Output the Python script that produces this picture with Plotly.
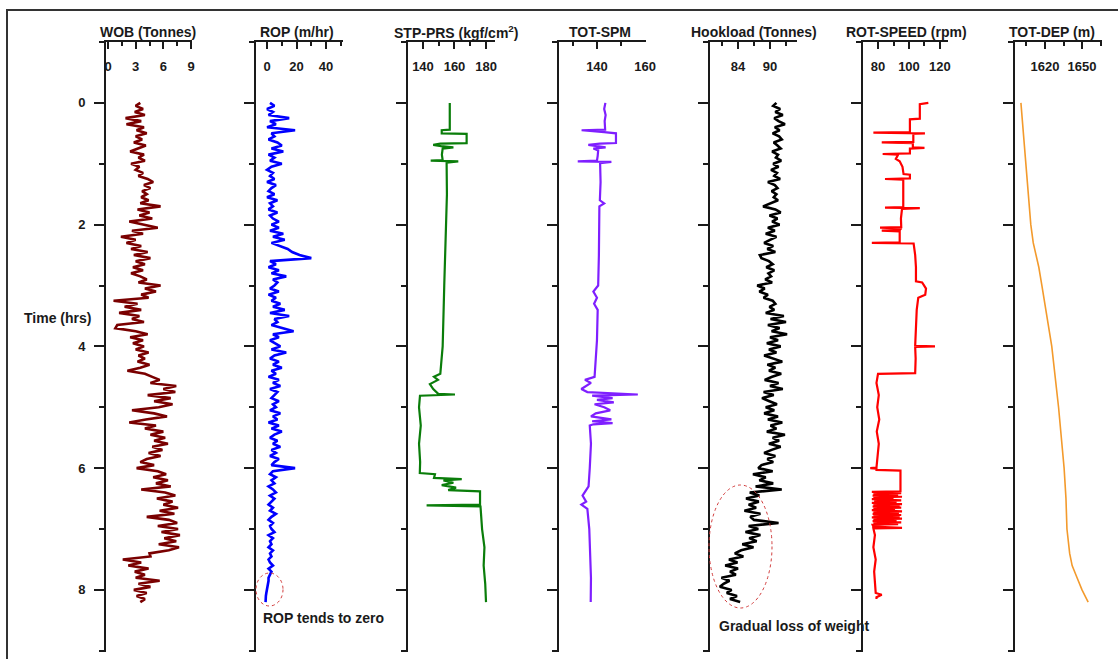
import numpy as np
import plotly.graph_objects as go

W, H = 1118, 659
TOP, BOTTOM = 42, 652
FONT = "Arial, Liberation Sans, sans-serif"
INK = "#1a1a1a"

STEP_HRS = 0.05  # sampling interval of the densely logged channels

# WOB (Tonnes), one row per hour
WOB_ROWS = [
    [3.5, 3.0, 3.8, 2.9, 4.0, 1.9, 3.6, 2.0, 3.9, 3.1, 4.2, 3.0, 3.7, 2.8, 4.1, 3.2, 2.4, 3.9, 3.3, 4.0],
    [2.5, 3.4, 3.0, 3.8, 3.3, 4.3, 4.9, 3.9, 4.6, 3.7, 4.2, 3.6, 4.4, 3.5, 5.7, 3.2, 4.5, 3.4, 4.8, 2.3],
    [3.9, 5.4, 2.6, 3.8, 1.4, 3.0, 2.0, 3.6, 2.5, 4.3, 2.8, 4.6, 3.0, 4.0, 2.7, 3.8, 2.5, 3.5, 4.2, 3.3],
    [5.7, 4.0, 5.2, 3.6, 4.4, 0.6, 3.2, 1.8, 3.6, 1.2, 3.4, 2.6, 3.9, 1.0, 0.8, 3.0, 4.3, 2.4, 3.8, 2.7],
    [3.9, 3.0, 4.4, 3.3, 4.0, 3.2, 4.5, 3.5, 2.1, 4.0, 4.8, 5.6, 4.6, 7.4, 6.0, 7.3, 4.3, 6.8, 5.0, 7.0],
    [5.5, 2.6, 5.0, 6.4, 4.1, 2.3, 5.2, 4.0, 6.0, 4.6, 6.2, 5.0, 6.5, 4.8, 5.9, 4.4, 5.7, 4.2, 3.5, 5.0],
    [3.1, 5.4, 6.3, 4.9, 6.5, 5.2, 6.8, 3.6, 6.2, 7.3, 5.3, 7.0, 6.0, 7.6, 5.6, 7.2, 4.2, 6.6, 7.5, 5.4],
    [7.6, 5.8, 7.8, 6.1, 7.4, 5.5, 7.7, 6.6, 4.5, 4.6, 1.6, 3.6, 2.2, 4.4, 2.9, 4.0, 3.0, 5.6, 3.3, 4.6],
    [2.8, 4.2, 3.1, 4.0, 3.5],
]

# ROP (m/hr)
ROP_ROWS = [
    [2, 5, 0, 4, 1, 15, 2, 6, 0, 19, 3, 5, 1, 7, 10, 3, 11, 1, 5, 2],
    [10, 3, 0, 4, 2, 5, 0, 6, 3, 1, 5, 0, 7, 2, 4, 1, 7, 2, 4, 8],
    [3, 8, 2, 11, 4, 12, 3, 9, 14, 17, 22, 30, 2, 6, 1, 8, 3, 13, 4, 7],
    [5, 2, 8, 1, 6, 3, 9, 4, 12, 2, 15, 5, 7, 3, 10, 18, 4, 8, 2, 6],
    [9, 3, 13, 5, 2, 8, 4, 10, 3, 6, 1, 8, 4, 9, 2, 7, 5, 3, 8, 4],
    [6, 2, 9, 4, 7, 1, 8, 3, 10, 5, 2, 7, 4, 9, 3, 6, 2, 8, 5, 3],
    [19, 4, 2, 6, 3, 5, 1, 4, 6, 2, 5, 3, 1, 4, 2, 6, 3, 1, 4, 2],
    [3, 5, 1, 4, 2, 3, 1, 4, 2, 3, 1, 2, 4, 1, 3, 2, 1, 1, 0.5, 0.5],
    [0, -0.5, -0.8, -1, -1],
]

# Hookload (Tonnes)
HOOK_ROWS = [
    [91.2, 90.6, 91.9, 91.0, 92.4, 90.8, 91.6, 92.8, 90.9, 91.8, 90.5, 91.7, 92.2, 90.7, 91.4, 92.0, 90.4, 91.5, 91.1, 92.1],
    [90.6, 91.6, 90.2, 91.3, 90.8, 91.9, 89.6, 90.9, 91.4, 90.3, 91.2, 90.7, 91.5, 90.1, 88.7, 91.0, 92.0, 89.9, 91.4, 90.4],
    [91.8, 89.6, 90.9, 89.2, 91.2, 90.0, 88.9, 90.6, 89.5, 91.0, 88.1, 88.4, 89.8, 90.5, 89.3, 90.8, 89.7, 90.2, 89.1, 90.4],
    [87.6, 89.0, 88.0, 89.6, 88.8, 90.5, 91.0, 89.9, 90.8, 89.2, 92.6, 90.1, 93.0, 89.6, 91.8, 90.3, 93.2, 90.0, 91.5, 89.4],
    [92.0, 89.8, 91.2, 88.9, 90.6, 92.3, 89.5, 91.0, 89.8, 92.1, 90.4, 89.0, 91.6, 90.0, 92.4, 88.8, 90.7, 88.5, 89.9, 91.3],
    [89.2, 90.8, 88.9, 91.5, 89.6, 92.3, 90.1, 91.2, 89.4, 92.8, 90.5, 91.7, 89.8, 92.0, 90.3, 88.9, 91.0, 89.5, 90.6, 88.4],
    [87.8, 90.5, 86.8, 89.2, 88.0, 90.6, 87.3, 92.2, 86.2, 88.0, 85.5, 87.9, 86.0, 87.4, 85.2, 88.2, 86.3, 87.0, 91.6, 86.0],
    [87.8, 85.4, 88.2, 86.1, 87.5, 84.8, 86.9, 84.6, 83.4, 85.0, 82.3, 83.9, 81.6, 84.0, 82.5, 83.6, 80.9, 82.4, 81.3, 80.6],
    [82.8, 81.9, 83.8, 82.5, 84.4],
]

# STP-PRS (kgf/cm2): time (hrs), value
STP_T = [0.00, 0.20, 0.44, 0.45, 0.50, 0.51, 0.66, 0.67, 0.69, 0.71, 0.73, 0.75, 0.85, 0.94, 0.95, 0.96, 0.98,
         1.5, 2.0, 2.5, 3.0, 3.3, 3.6, 4.0, 4.3, 4.45, 4.5, 4.55, 4.62, 4.7, 4.78, 4.79, 4.81, 5.0, 5.3, 5.6,
         5.9, 6.08, 6.10, 6.16, 6.18, 6.20, 6.24, 6.28, 6.32, 6.36, 6.38, 6.60, 6.61, 6.63, 7.0, 7.3, 7.6, 7.9, 8.2]
STP_V = [157.0, 157.2, 157.0, 151.9, 151.9, 167.7, 167.7, 151.0, 146.5, 151.5, 159.3, 152.5, 152.0, 152.5, 144.9,
         162.4, 155.0, 155.2, 154.5, 154.0, 153.5, 153.2, 152.9, 152.5, 151.5, 151.0, 147.0, 149.5, 144.4, 146.5,
         149.7, 160.3, 138.1, 137.5, 138.6, 137.5, 138.2, 138.0, 147.6, 147.0, 164.6, 153.0, 159.3, 151.9, 161.0,
         156.0, 176.2, 176.2, 142.3, 176.5, 177.5, 179.0, 178.5, 179.5, 180.0]

# TOT-SPM
SPM_T = [0, 0.1, 0.2, 0.3, 0.44, 0.45, 0.48, 0.5, 0.66, 0.67, 0.69, 0.71, 0.73, 0.75, 0.78, 0.87, 0.95, 0.96,
         0.97, 0.99, 1.3, 1.6, 1.65, 1.7, 2.0, 2.5, 3.0, 3.1, 3.2, 3.3, 3.4, 3.9, 4.2, 4.5, 4.55, 4.6, 4.7, 4.75,
         4.79, 4.81, 4.85, 4.88, 4.92, 4.95, 5.0, 5.05, 5.1, 5.15, 5.2, 5.23, 5.26, 5.28, 5.3, 5.6, 6.0, 6.3,
         6.45, 6.55, 6.6, 6.67, 7.0, 7.4, 7.8, 8.2]
SPM_V = [143.5, 143.0, 143.6, 143.2, 143.4, 133.6, 143.0, 147.9, 147.9, 141.2, 136.4, 141.0, 143.6, 138.5, 140.5,
         140.3, 140.0, 132.0, 146.0, 141.3, 141.5, 141.2, 143.0, 141.0, 141.0, 140.8, 140.5, 138.5, 140.0, 138.8,
         140.3, 140.0, 139.5, 139.0, 135.0, 137.5, 133.5, 136.0, 157.0, 138.0, 146.5, 140.0, 147.0, 139.0, 143.0,
         145.5, 139.5, 137.5, 146.0, 138.0, 146.5, 138.5, 137.0, 137.5, 137.0, 136.5, 134.0, 135.5, 133.5, 136.0,
         136.8, 137.2, 137.5, 137.4]

# ROT-SPEED (rpm)
ROT_T = [0.00, 0.02, 0.26, 0.27, 0.48, 0.49, 0.50, 0.51, 0.64, 0.65, 0.66, 0.73, 0.74, 0.75, 0.83, 0.84, 0.85,
         0.92, 0.96, 1.05, 1.17, 1.18, 1.24, 1.25, 1.26, 1.50, 1.71, 1.72, 1.73, 1.74, 1.90, 2.04, 2.05, 2.06,
         2.09, 2.10, 2.11, 2.29, 2.30, 2.31, 2.50, 2.70, 2.93, 2.95, 3.05, 3.15, 3.20, 3.40, 3.70, 3.95, 3.99,
         4.00, 4.01, 4.20, 4.44, 4.45, 4.60, 4.80, 5.00, 5.20, 5.40, 5.60, 5.80, 5.99, 6.00, 6.01, 6.03, 6.04,
         6.38, 6.39, 6.41, 6.42, 6.44, 6.45, 6.47, 6.48, 6.50, 6.51, 6.53, 6.54, 6.56, 6.57, 6.59, 6.60, 6.62,
         6.63, 6.65, 6.66, 6.68, 6.69, 6.71, 6.72, 6.74, 6.75, 6.77, 6.78, 6.80, 6.81, 6.83, 6.84, 6.86, 6.87,
         6.89, 6.90, 6.92, 6.93, 6.96, 6.98, 6.99, 7.10, 7.30, 7.50, 7.70, 7.90, 8.05, 8.08, 8.12, 8.15]
ROT_V = [112.5, 107.0, 107.0, 100.6, 100.6, 77.0, 110.3, 102.8, 102.8, 82.4, 102.5, 102.5, 110.0, 100.6, 100.6,
         83.0, 93.0, 91.5, 94.0, 95.8, 96.5, 100.6, 100.6, 84.5, 96.3, 96.3, 96.3, 84.5, 107.0, 95.5, 94.8, 95.0,
         81.3, 95.0, 94.0, 82.4, 94.0, 94.0, 76.0, 103.0, 104.0, 104.5, 104.5, 108.5, 111.0, 110.5, 106.0, 105.0,
         104.5, 104.5, 104.0, 116.8, 104.0, 104.3, 104.0, 80.0, 79.0, 80.5, 79.5, 80.8, 79.2, 80.5, 79.5, 79.0,
         75.0, 79.0, 79.0, 94.5, 94.5, 76.0, 95.0, 77.0, 93.0, 76.5, 95.5, 77.0, 90.0, 76.0, 95.0, 77.5, 92.0,
         76.0, 95.5, 77.0, 94.0, 76.5, 95.0, 77.0, 91.0, 76.0, 95.5, 77.0, 93.5, 76.5, 95.0, 77.0, 94.0, 76.0,
         95.5, 77.0, 92.0, 76.5, 95.0, 77.0, 93.0, 76.5, 77.0, 95.5, 77.0, 78.0, 77.0, 78.5, 77.5, 78.0, 78.5,
         82.4, 79.0, 79.0]

# TOT-DEP (m)
DEP_T = [0.0, 1.0, 2.0, 2.3, 2.7, 3.0, 4.0, 5.0, 6.0, 6.5, 7.0, 7.4, 7.6, 7.8, 8.0, 8.2]
DEP_V = [1600.5, 1604.5, 1608.5, 1610.5, 1615.0, 1617.5, 1625.5, 1631.0, 1635.5, 1637.0, 1637.8, 1640.0,
         1642.0, 1646.0, 1650.0, 1655.0]


def flat(rows):
    return [v for r in rows for v in r]


def grid(vals):
    return list(np.round(np.arange(len(vals)) * STEP_HRS, 2))


wob, rop, hook = flat(WOB_ROWS), flat(ROP_ROWS), flat(HOOK_ROWS)

series = [
    (wob, grid(wob)), (rop, grid(rop)), (STP_V, STP_T), (SPM_V, SPM_T),
    (hook, grid(hook)), (ROT_V, ROT_T), (DEP_V, DEP_T),
]

# panel geometry/style: pixel span, range, major dtick, minor dtick, title, title centre px, colour, width
PANELS = [
    ((106, 192), (-0.22, 9.11), 3, 1.5, "WOB (Tonnes)", 148, "#7a0000", 2.6),
    ((256, 343), (-7.5, 51.5), 20, 10, "ROP (m/hr)", 297, "#0000ff", 2.6),
    ((408, 495), (130.5, 185.7), 20, 10, "STP-PRS (kgf/cm<sup>2</sup>)", 456, "#0a7d0a", 2.2),
    ((559, 646), (124.2, 160.4), 20, 10, "TOT-SPM", 600, "#7f1fff", 2.2),
    ((710, 797), (78.75, 95.06), 6, 3, "Hookload (Tonnes)", 754, "#000000", 2.6),
    ((863, 948), (70.3, 125.2), 20, 10, "ROT-SPEED (rpm)", 906, "#ff0000", 2.2),
    ((1015, 1102), (1595.7, 1666.2), 30, 15, "TOT-DEP (m)", 1052, "#f39a2c", 1.6),
]


def py(p):
    return (BOTTOM - p) / (BOTTOM - TOP)


fig = go.Figure()
layout = {}
annotations = []
for i, ((x0, x1), rng, dt, mdt, title, tcx, col, lw) in enumerate(PANELS):
    sfx = "" if i == 0 else str(i + 1)
    xs, ys = series[i]
    fig.add_trace(go.Scatter(x=xs, y=ys, mode="lines", line=dict(color=col, width=lw),
                             xaxis="x" + sfx, yaxis="y" + sfx, showlegend=False, hoverinfo="skip"))
    layout["xaxis" + sfx] = dict(
        domain=[x0 / W, x1 / W], range=list(rng), anchor="y" + sfx, side="top", automargin=False,
        showline=True, linecolor=INK, linewidth=2, showgrid=False, zeroline=False,
        ticks="inside", ticklen=7, tickwidth=2, tickcolor=INK,
        tickmode="linear", tick0=0, dtick=dt,
        minor=dict(ticks="inside", dtick=mdt, ticklen=4, tickwidth=2, tickcolor=INK, showgrid=False),
        ticklabelposition="inside", ticklabeloverflow="allow", ticklabelstandoff=13,
        tickfont=dict(family=FONT, size=13, color=INK, weight="bold"),
    )
    yax = dict(
        domain=[0, 1], range=[9.02, -1.0], anchor="x" + sfx, automargin=False,
        showline=True, linecolor=INK, linewidth=2, showgrid=False, zeroline=False,
        ticks="outside", ticklen=10, tickwidth=2, tickcolor=INK,
        tickmode="linear", tick0=0, dtick=2,
        minor=dict(ticks="outside", dtick=1, ticklen=5, tickwidth=2, tickcolor=INK, showgrid=False),
        showticklabels=(i == 0), ticklabelstandoff=6,
        tickfont=dict(family=FONT, size=13, color=INK, weight="bold"),
    )
    if i > 0:
        yax["matches"] = "y"
    layout["yaxis" + sfx] = yax
    annotations.append(dict(text=title, x=tcx / W, y=py(32), xref="paper", yref="paper",
                            showarrow=False, xanchor="center", yanchor="middle",
                            font=dict(family=FONT, size=14, color=INK, weight="bold")))

annotations += [
    dict(text="Time (hrs)", x=57 / W, y=py(318), xref="paper", yref="paper", showarrow=False,
         xanchor="center", yanchor="middle", font=dict(family=FONT, size=14, color=INK, weight="bold")),
    dict(text="ROP tends to zero", x=323 / W, y=py(618), xref="paper", yref="paper", showarrow=False,
         xanchor="center", yanchor="middle", font=dict(family=FONT, size=14, color=INK, weight="bold")),
    dict(text="Gradual loss of weight", x=794 / W, y=py(626), xref="paper", yref="paper", showarrow=False,
         xanchor="center", yanchor="middle", font=dict(family=FONT, size=14, color=INK, weight="bold")),
]

shapes = [
    dict(type="rect", xref="paper", yref="paper", x0=7 / W, x1=1135 / W, y0=py(700), y1=py(10),
         line=dict(color="#333333", width=2), fillcolor="rgba(0,0,0,0)", layer="below"),
    dict(type="circle", xref="paper", yref="paper", x0=256 / W, x1=283 / W, y0=py(606), y1=py(573),
         line=dict(color="#d23c3c", width=1, dash="dot")),
    dict(type="circle", xref="paper", yref="paper", x0=709 / W, x1=772 / W, y0=py(608), y1=py(485),
         line=dict(color="#d23c3c", width=1, dash="dot")),
]

fig.update_layout(
    width=W, height=H, autosize=False, margin=dict(l=0, r=0, t=TOP, b=H - BOTTOM, pad=0, autoexpand=False),
    paper_bgcolor="white", plot_bgcolor="white", showlegend=False,
    annotations=annotations, shapes=shapes, **layout,
)

fig.write_html("out.html", config={"responsive": False})
